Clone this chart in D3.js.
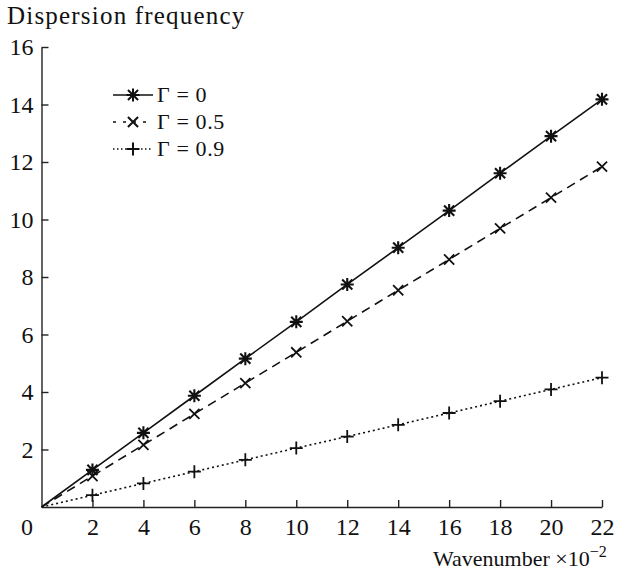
<!DOCTYPE html>
<html>
<head>
<meta charset="utf-8">
<script src="https://cdn.jsdelivr.net/npm/d3@7"></script>
</head>
<body style="margin:0">
<svg id="chart" width="626" height="572"></svg>
<script>
// ---- data ----
const wavenumber = [0, 2, 4, 6, 8, 10, 12, 14, 16, 18, 20, 22];
const gamma0   = [0, 1.29, 2.58, 3.87, 5.16, 6.44, 7.74, 9.02, 10.31, 11.61, 12.9, 14.18];
const gamma05  = [0, 1.08, 2.16, 3.24, 4.31, 5.38, 6.46, 7.54, 8.61, 9.69, 10.76, 11.84];
const gamma09  = [0, 0.41, 0.82, 1.23, 1.64, 2.05, 2.45, 2.86, 3.27, 3.68, 4.09, 4.5];
const seriesNames = ["Γ = 0", "Γ = 0.5", "Γ = 0.9"];
const xTicks = [0, 2, 4, 6, 8, 10, 12, 14, 16, 18, 20, 22];
const yTicks = [2, 4, 6, 8, 10, 12, 14, 16];

const FONT = '"Liberation Serif"';

const series = [
  { name: seriesNames[0], values: gamma0,  dash: null,  marker: "asterisk" },
  { name: seriesNames[1], values: gamma05, dash: "9,6", marker: "cross" },
  { name: seriesNames[2], values: gamma09, dash: "2,3", marker: "plus" }
];

const svg = d3.select("#chart");
const x = d3.scaleLinear().domain([0, 22]).range([41.5, 602]);
const y = d3.scaleLinear().domain([0, 16]).range([507, 47]);

// axes
const xAxis = d3.axisBottom(x).tickValues(xTicks).tickSizeInner(-7).tickSizeOuter(0).tickPadding(11)
  .tickFormat(d3.format("d"));
const gx = svg.append("g").attr("transform", `translate(0,${y(0)})`).call(xAxis);
gx.selectAll(".tick").filter(d => d === 0).select("text").attr("x", -15);
gx.selectAll(".tick").filter(d => d === 0).select("line").remove();

const yAxis = d3.axisLeft(y).tickValues(yTicks).tickSizeInner(-7).tickSizeOuter(0).tickPadding(8)
  .tickFormat(d3.format("d"));
const gy = svg.append("g").attr("transform", `translate(${x(0)},0)`).call(yAxis);

svg.selectAll(".tick text").style("font-family", FONT).style("font-size", "24px").attr("fill", "#111");
svg.selectAll(".domain, .tick line").attr("stroke", "#222").attr("stroke-width", 1.4);

// titles
svg.append("text").attr("x", 7).attr("y", 24)
  .style("font-family", FONT).style("font-size", "25px").style("letter-spacing", "1.2px").attr("fill", "#111")
  .text("Dispersion frequency");

const xl = svg.append("text").attr("x", 433).attr("y", 566)
  .style("font-family", FONT).style("font-size", "22px").attr("fill", "#111");
xl.append("tspan").text("Wavenumber ×10");
xl.append("tspan").attr("dy", -9).style("font-size", "16px").text("−2");

// markers
function markerPath(type, s) {
  const p = d3.path();
  if (type === "asterisk" || type === "plus") {
    p.moveTo(-s, 0); p.lineTo(s, 0);
    p.moveTo(0, -s); p.lineTo(0, s);
  }
  if (type === "asterisk" || type === "cross") {
    const d = s * 0.78;
    p.moveTo(-d, -d); p.lineTo(d, d);
    p.moveTo(-d, d); p.lineTo(d, -d);
  }
  return p.toString();
}

const line = d3.line().x((d, i) => x(wavenumber[i])).y(d => y(d));

series.forEach(s => {
  svg.append("path")
    .datum(s.values)
    .attr("d", line)
    .attr("fill", "none")
    .attr("stroke", "#111")
    .attr("stroke-width", 1.6)
    .attr("stroke-dasharray", s.dash);
  svg.append("g").selectAll("path")
    .data(s.values.map((v, i) => ({ x: wavenumber[i], y: v })).filter(d => d.x > 0))
    .join("path")
    .attr("transform", d => `translate(${x(d.x)},${y(d.y)})`)
    .attr("d", markerPath(s.marker, 6.5))
    .attr("stroke", "#111")
    .attr("stroke-width", s.marker === "asterisk" ? 2.1 : 1.8)
    .attr("fill", "none");
});

// legend
const legendY = [95, 122, 149];
const legendDash = [null, "3,7", "1.5,2.5"];
series.forEach((s, i) => {
  const g = svg.append("g").attr("transform", `translate(0,${legendY[i]})`);
  g.append("line").attr("x1", 113).attr("x2", 153).attr("y1", 0).attr("y2", 0)
    .attr("stroke", "#111").attr("stroke-width", 1.6).attr("stroke-dasharray", legendDash[i]);
  g.append("path").attr("transform", "translate(133,0)").attr("d", markerPath(s.marker, 6.5))
    .attr("stroke", "#111").attr("stroke-width", 2).attr("fill", "none");
  g.append("text").attr("x", 157).attr("y", 0).attr("dy", "0.34em")
    .style("font-family", FONT).style("font-size", "22px").style("letter-spacing", "0.6px")
    .attr("fill", "#111").text(s.name);
});
</script>
</body>
</html>
